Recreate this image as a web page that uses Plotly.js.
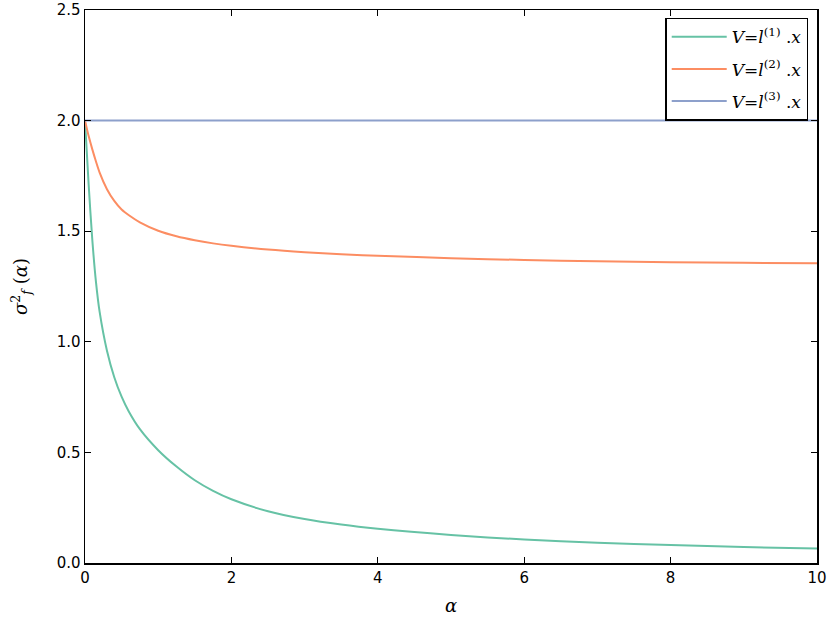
<!DOCTYPE html>
<html>
<head>
<meta charset="utf-8">
<script src="https://cdn.plot.ly/plotly-3.0.1.min.js"></script>
<style>html,body{margin:0;padding:0;background:#fff;}</style>
</head>
<body>
<div id="chart" style="width:830px;height:623px;"></div>
<script>
const alpha = [0, 0.05, 0.1, 0.15, 0.2, 0.3, 0.4, 0.5, 0.6, 0.75, 1.0, 1.25, 1.5, 1.75, 2.0, 2.5, 3.0, 3.5, 4.0, 5.0, 6.0, 7.0, 8.0, 9.0, 10.0];
const seriesL1 = [2.0, 1.71, 1.46, 1.27, 1.135, 0.96, 0.84, 0.752, 0.684, 0.605, 0.51, 0.436, 0.374, 0.326, 0.288, 0.234, 0.199, 0.174, 0.155, 0.127, 0.106, 0.092, 0.081, 0.072, 0.065];
const seriesL2 = [2.0, 1.93, 1.87, 1.815, 1.765, 1.69, 1.637, 1.598, 1.572, 1.54, 1.502, 1.477, 1.459, 1.445, 1.434, 1.417, 1.405, 1.396, 1.389, 1.378, 1.37, 1.364, 1.36, 1.357, 1.355];
const seriesL3 = [2.0, 2.0, 2.0, 2.0, 2.0, 2.0, 2.0, 2.0, 2.0, 2.0, 2.0, 2.0, 2.0, 2.0, 2.0, 2.0, 2.0, 2.0, 2.0, 2.0, 2.0, 2.0, 2.0, 2.0, 2.0];
const seriesNames = ['<i>V</i>=<i>l</i><sup>(1)</sup> .<i>x</i>', '<i>V</i>=<i>l</i><sup>(2)</sup> .<i>x</i>', '<i>V</i>=<i>l</i><sup>(3)</sup> .<i>x</i>'];
const colors = ['#66c2a5', '#fc8d62', '#8da0cb'];
const xTicks = [0, 2, 4, 6, 8, 10];
const yTicks = [0, 0.5, 1.0, 1.5, 2.0, 2.5];

const allY = [seriesL1, seriesL2, seriesL3];
const traces = allY.map((ys, i) => ({
  x: alpha, y: ys, type: 'scatter', mode: 'lines', name: seriesNames[i],
  legendgroup: 'g' + i,
  line: {color: colors[i], width: 2, shape: 'spline', smoothing: 0.8}
}));

const axisCommon = {
  showgrid: false, zeroline: false, showline: true, linecolor: '#000', linewidth: 1.5,
  mirror: 'ticks', ticks: 'inside', ticklen: 6, tickwidth: 1, tickcolor: '#000',
  tickfont: {family: 'DejaVu Sans', size: 15, color: '#000'}
};

const layout = {
  width: 830, height: 623,
  margin: {l: 85, r: 13, t: 10, b: 60},
  paper_bgcolor: '#fff', plot_bgcolor: '#fff',
  showlegend: true,
  legend: {
    x: 0.988, y: 0.986, xanchor: 'right', yanchor: 'top',
    bordercolor: '#000', borderwidth: 1.5, bgcolor: '#fff',
    font: {family: 'DejaVu Serif', size: 17, color: '#000'},
    itemwidth: 55, tracegroupgap: 7
  },
  xaxis: Object.assign({}, axisCommon, {
    range: [0, 10], tickvals: xTicks, ticktext: xTicks.map(String),
    title: {text: '<i>α</i>', font: {family: 'DejaVu Serif', size: 18, color: '#000'}, standoff: 14}
  }),
  yaxis: Object.assign({}, axisCommon, {
    range: [0, 2.5], tickvals: yTicks, ticktext: yTicks.map(v => v.toFixed(1)),
    title: {text: '<i>σ</i><sup>2</sup><sub><i>f</i></sub> (<i>α</i>)', font: {family: 'DejaVu Serif', size: 18, color: '#000'}, standoff: 24}
  })
};

Plotly.newPlot('chart', traces, layout, {displayModeBar: false, staticPlot: true});
</script>
</body>
</html>
